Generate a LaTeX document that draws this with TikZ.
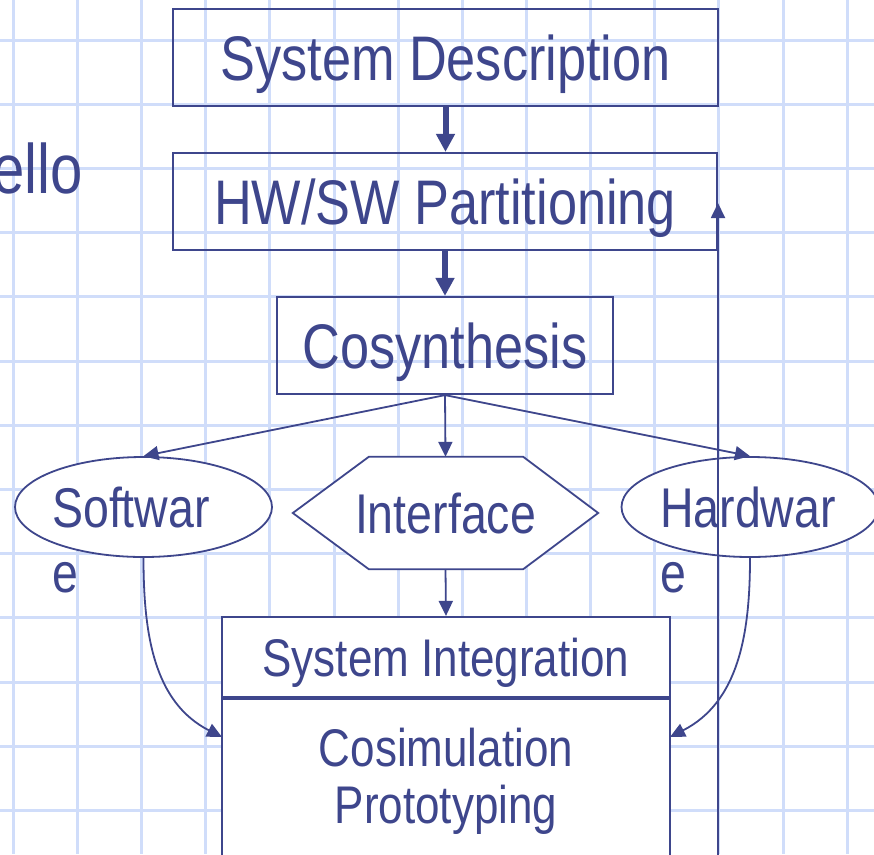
\documentclass[tikz,border=0pt]{standalone}
\usepackage{fontspec}
\setmainfont{Liberation Sans}[FakeStretch=0.83]
\usetikzlibrary{arrows.meta,shapes.geometric}
\definecolor{ink}{RGB}{62,70,140}
\definecolor{gridblue}{RGB}{208,221,250}
\newcommand{\bigtxt}{\fontsize{63}{70}\selectfont}
\newcommand{\midtxt}{\fontsize{53}{57}\selectfont}
\newcommand{\elltxt}{\fontsize{56}{65}\selectfont}
\newcommand{\sidetxt}{\fontsize{70}{80}\selectfont}

\begin{document}
\begin{tikzpicture}[x=1pt,y=1pt]
            \tikzstyle{every node}+=[inner sep=0pt, text=ink]
            \tikzstyle{gridline}=[gridblue, line width=3pt]
            \tikzstyle{stagebox}=[draw=ink, line width=2.2pt, font=\bigtxt, text height=45pt, text depth=0pt]
            \tikzstyle{intbox}=[draw=ink, fill=white, line width=2.2pt, font=\midtxt, text height=38pt, text depth=0pt]
            \tikzstyle{partell}=[ellipse, draw=ink, fill=white, line width=1.8pt, minimum width=257pt, minimum height=100pt]
            \tikzstyle{bigarrow}=[ink, line width=6pt, -{Triangle[length=18pt,width=18pt]}]
            \tikzstyle{thinarrow}=[ink, line width=1.8pt, -{Triangle[length=15pt,width=14pt]}]
            \fill [white] (0,0) rectangle (874,-854);
            \useasboundingbox (0,0) rectangle (874,-854);
            \foreach \k in {0,...,13}
              \draw [gridline] ({13.3+64.15*\k},0) -- ({13.3+64.15*\k},-854);
            \foreach \k in {0,...,12}
              \draw [gridline] (0,{-40-64.2*\k}) -- (874,{-40-64.2*\k});
            \node [font=\sidetxt, anchor=base east] (hello) at (83,-193) {ello};
            \node [stagebox, minimum width=545pt, minimum height=97pt] (sysdesc) at (445.5,-57.5) {System Description};
            \node [stagebox, minimum width=544pt, minimum height=97pt] (hwsw) at (445,-201.5) {HW/SW Partitioning};
            \node [stagebox, minimum width=336pt, minimum height=97pt] (cosyn) at (445,-345.5) {Cosynthesis};
            \node [partell] (soft) at (143.5,-507) {};
            \node [partell] (hard) at (750,-507) {};
            \node [font=\elltxt, align=left, anchor=north west] (softlbl) at (52,-487) {Softwar\\e};
            \node [font=\elltxt, align=left, anchor=north west] (hardlbl) at (660,-487) {Hardwar\\e};
            \fill [white] (293,-513) -- (369,-457) -- (523,-457) -- (598,-513) -- (523,-569) -- (369,-569) -- cycle;
            \node [font=\elltxt, text height=40pt, text depth=0pt, minimum width=305pt, minimum height=112pt] (intf) at (445.5,-513) {Interface};
            \draw [ink, line width=1.8pt] (intf.west) -- ([xshift=76pt]intf.north west) -- ([xshift=-75pt]intf.north east) -- (intf.east)
              -- ([xshift=-75pt]intf.south east) -- ([xshift=76pt]intf.south west) -- cycle;
            \node [intbox, minimum width=448pt, minimum height=80pt] (integ) at (446,-657) {System Integration};
            \node [intbox, minimum width=448pt, minimum height=200pt, anchor=north] (cosim) at (integ.south) {};
            \node [font=\midtxt, align=center, anchor=north] (cosimlbl) at (446,-728) {Cosimulation\\Prototyping};
            \draw [bigarrow] (sysdesc.south) -- (sysdesc.south |- hwsw.north);
            \draw [bigarrow] (hwsw.south) -- (hwsw.south |- cosyn.north);
            \draw [thinarrow] (cosyn.south) -- (soft.north);
            \draw [thinarrow] (cosyn.south) -- (intf.north);
            \draw [thinarrow] (cosyn.south) -- (hard.north);
            \draw [thinarrow] (intf.south) -- (integ.north);
            \coordinate (swin) at (222,-737);
            \coordinate (hwin) at (670,-737);
            \draw [thinarrow] (soft.south) to [out=-90,in=153] (swin);
            \draw [thinarrow] (hard.south) to [out=-90,in=27] (hwin);
            \coordinate (loopfoot) at (718,-900);
            \coordinate (loophead) at (718,-203);
            \draw [thinarrow] (loopfoot) -- (loophead);
        \end{tikzpicture}
\end{document}
